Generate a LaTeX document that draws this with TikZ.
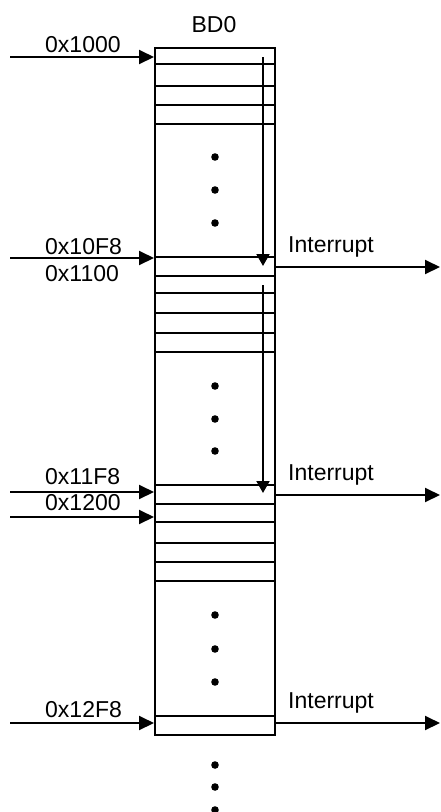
\documentclass[tikz,border=0pt]{standalone}
\usepackage{fontspec}
\setmainfont{Liberation Sans}
\usetikzlibrary{arrows.meta, positioning, calc}

\begin{document}
\begin{tikzpicture}[
    x=1pt, y=-1pt,
    bdcol/.style={draw, line width=2pt, minimum width=120pt, minimum height=687pt, inner sep=0pt},
    slot/.style={line width=2pt},
    ptr/.style={line width=2pt, -{Triangle[length=15pt, width=14pt]}},
    scan/.style={line width=2pt, -{Triangle[length=12pt, width=13pt]}},
    addr/.style={font=\fontsize{23}{27}\selectfont, anchor=base west, inner sep=0pt},
    hdr/.style={font=\fontsize{23}{27}\selectfont, anchor=base, inner sep=0pt}
]
\useasboundingbox (0,0) rectangle (440,812);

% --- BD0 column ---
\node[hdr] (bd0) at (214,32) {BD0};
\node[bdcol] (col) at (215,391.5) {};
\foreach \ry in {64,86,105,124, 257,276,293,313,333,352, 485,504,522,543,562,581, 716}
    \draw[slot] (col.west |- 0,\ry) -- (col.east |- 0,\ry);

% --- dots ---
\foreach \dy in {157,190,223, 386,419,451, 615,649,682, 765,787,810}
    \fill (215,\dy) circle[radius=3.8];

% --- scan arrows ---
\coordinate (s1top) at (263,57);
\coordinate (s1bot) at (263,266);
\coordinate (s2top) at (263,285);
\coordinate (s2bot) at (263,493);
\draw[scan] (s1top) -- (s1bot);
\draw[scan] (s2top) -- (s2bot);

% --- addresses ---
\foreach \nm/\ay in {a1000/57, a10F8/258, a11F8/492, a1200/517, a12F8/723} {
    \coordinate (\nm) at (10,\ay);
    \draw[ptr] (\nm) -- (\nm -| col.west);
}
\node[addr] (t1000) at (45,52) {0x1000};
\node[addr] (t10F8) at (45,254.5) {0x10F8};
\node[addr] (t1100) at (45,281) {0x1100};
\node[addr] (t11F8) at (45,484) {0x11F8};
\node[addr] (t1200) at (45,510.5) {0x1200};
\node[addr] (t12F8) at (45,717) {0x12F8};

% --- interrupts ---
\foreach \i/\ay/\ty in {1/267/252, 2/495/480, 3/723/708} {
    \coordinate (irq\i) at (440,\ay);
    \draw[ptr] (col.east |- irq\i) -- (irq\i);
    \node[addr] (irqtxt\i) at (288,\ty) {Interrupt};
}
\end{tikzpicture}
\end{document}
